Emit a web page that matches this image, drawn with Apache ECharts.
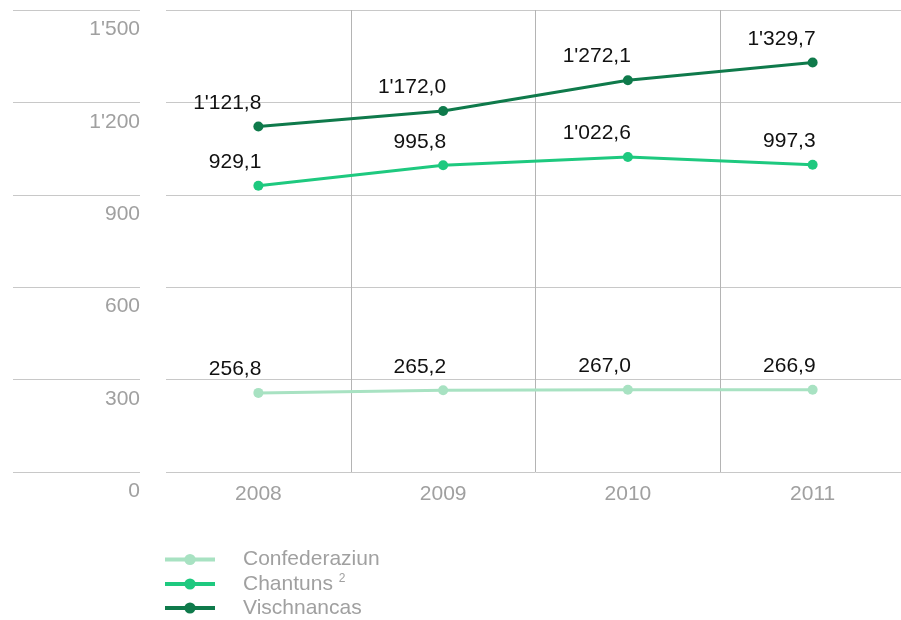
<!DOCTYPE html>
<html lang="rm">
<head>
    <meta charset="utf-8">
    <title>Expensas publicas</title>
    <script src="https://cdn.jsdelivr.net/npm/echarts@6/dist/echarts.min.js"></script>
    <style>
        html, body {
            margin: 0;
            padding: 0;
            background: #fff;
            overflow: hidden;
        }
        #chart {
            width: 910px;
            height: 620px;
        }
    </style>
</head>
<body>
<div id="chart"></div>

<script>
    var years = ['2008', '2009', '2010', '2011'];
    var confederaziun = [256.8, 265.2, 267.0, 266.9];
    var chantuns = [929.1, 995.8, 1022.6, 997.3];
    var vischnancas = [1121.8, 1172.0, 1272.1, 1329.7];
    var yTicks = [0, 300, 600, 900, 1200, 1500];

    var FONT = '"Liberation Sans", Arial, sans-serif';
    var FS = 21;

    // 1'121,8 style numbers
    function fmt(v, dec) {
        var s = v.toFixed(dec);
        var parts = s.split('.');
        var int = parts[0].replace(/\B(?=(\d{3})+(?!\d))/g, "'");
        return parts.length > 1 ? int + ',' + parts[1] : int;
    }

    function lineSeries(name, data, color) {
        return {
            name: name,
            type: 'line',
            xAxisIndex: 0,
            yAxisIndex: 0,
            data: data,
            symbol: 'circle',
            symbolSize: 10,
            lineStyle: { width: 3, color: color },
            itemStyle: { color: color },
            label: {
                show: true,
                position: 'top',
                align: 'right',
                distance: 8,
                offset: [3, 0],
                color: '#111',
                fontSize: FS,
                fontFamily: FONT,
                formatter: function (p) { return fmt(p.value, 1); }
            },
            animation: false
        };
    }

    var chart = echarts.init(document.getElementById('chart'));

    var option = {
        backgroundColor: '#fff',
        grid: [
            { left: 166, width: 739, top: 10, bottom: 148 },
            { left: 13, width: 127, top: 10, bottom: 148 }
        ],
        xAxis: [
            {
                type: 'category',
                gridIndex: 0,
                data: years,
                boundaryGap: true,
                axisLine: { show: false },
                axisTick: { show: false },
                axisLabel: {
                    margin: 12,
                    color: '#a0a0a0',
                    fontSize: FS,
                    fontFamily: FONT
                },
                splitLine: {
                    show: true,
                    lineStyle: {
                        color: ['rgba(0,0,0,0)', '#b4b4b4', '#b4b4b4', '#b4b4b4', 'rgba(0,0,0,0)'],
                        width: 1
                    }
                }
            },
            {
                type: 'value',
                gridIndex: 1,
                show: false
            }
        ],
        yAxis: [
            {
                type: 'value',
                gridIndex: 0,
                min: yTicks[0],
                max: yTicks[yTicks.length - 1],
                interval: 300,
                axisLine: { show: false },
                axisTick: { show: false },
                axisLabel: {
                    margin: 26,
                    color: '#a0a0a0',
                    fontSize: FS,
                    fontFamily: FONT,
                    verticalAlign: 'top',
                    padding: [9, 0, 0, 0],
                    formatter: function (v) { return fmt(v, 0); }
                },
                splitLine: { lineStyle: { color: '#c8c8c8', width: 1 } }
            },
            {
                type: 'value',
                gridIndex: 1,
                min: yTicks[0],
                max: yTicks[yTicks.length - 1],
                interval: 300,
                axisLine: { show: false },
                axisTick: { show: false },
                axisLabel: { show: false },
                splitLine: { lineStyle: { color: '#c8c8c8', width: 1 } }
            }
        ],
        legend: {
            orient: 'vertical',
            left: 158,
            top: 544,
            height: 100,
            itemWidth: 50,
            itemHeight: 14,
            itemGap: 3,
            data: ['Confederaziun', 'Chantuns', 'Vischnancas'],
            lineStyle: { width: 4 },
            formatter: function (name) {
                return name === 'Chantuns' ? name + ' {sup|2}' : name;
            },
            textStyle: {
                color: '#a0a0a0',
                fontSize: FS,
                fontFamily: FONT,
                padding: [0, 0, 0, 23],
                rich: {
                    sup: {
                        fontSize: 12,
                        color: '#a0a0a0',
                        fontFamily: FONT,
                        verticalAlign: 'top',
                        padding: [0, 0, 10, 0]
                    }
                }
            }
        },
        series: [
            lineSeries('Confederaziun', confederaziun, '#a8e2c2'),
            lineSeries('Chantuns', chantuns, '#1ec97f'),
            lineSeries('Vischnancas', vischnancas, '#0f7a4b')
        ]
    };

    chart.setOption(option);
</script>
</body>
</html>
